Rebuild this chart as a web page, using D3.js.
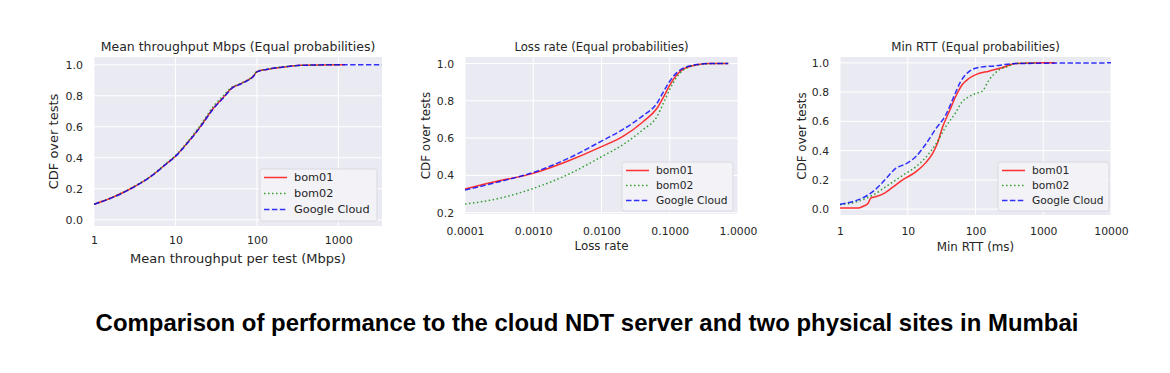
<!DOCTYPE html>
<html><head><meta charset="utf-8">
<script src="https://cdn.jsdelivr.net/npm/d3@7"></script>
<style>
body{margin:0;background:#fff;}
</style></head>
<body><svg id="c" width="1170" height="373"></svg>
<script>
// ---------- DATA ----------
const seriesNames = ["bom01", "bom02", "Google Cloud"];

// Panel 1: mean throughput (Mbps) -> CDF
const tputX_bom01 = [1, 1.73, 3.04, 4.87, 7.8, 10, 13.7, 20, 29.2, 38.7, 50, 60, 75, 90, 100, 132, 211, 338, 1000, 1200];
const tputY_bom01 = [0.10, 0.147, 0.21, 0.276, 0.363, 0.41, 0.49, 0.598, 0.72, 0.79, 0.853, 0.872, 0.897, 0.925, 0.955, 0.97, 0.985, 0.996, 1.0, 1.0];
const tputX_bom02 = [1, 1.73, 3.04, 4.87, 7.8, 10, 13.7, 20, 29.2, 38.7, 50, 60, 75, 90, 100, 132, 211, 338, 1000, 1100];
const tputY_bom02 = [0.10, 0.148, 0.212, 0.278, 0.366, 0.414, 0.495, 0.606, 0.73, 0.80, 0.857, 0.874, 0.899, 0.927, 0.956, 0.971, 0.986, 0.996, 1.0, 1.0];
const tputX_gcp = [1, 1.73, 3.04, 4.87, 7.8, 10, 13.7, 20, 29.2, 38.7, 50, 60, 75, 90, 100, 132, 211, 338, 1000, 3436];
const tputY_gcp = [0.10, 0.146, 0.209, 0.275, 0.362, 0.409, 0.488, 0.595, 0.716, 0.786, 0.851, 0.870, 0.895, 0.923, 0.954, 0.97, 0.985, 0.996, 1.0, 1.0];

// Panel 2: loss rate -> CDF
const lossX = [0.0001, 0.000316, 0.001, 0.00324, 0.01, 0.0209, 0.0407, 0.0646, 0.0813, 0.1, 0.126, 0.158, 0.251, 0.389, 0.72];
const lossY_bom01 = [0.327, 0.371, 0.411, 0.477, 0.554, 0.611, 0.688, 0.759, 0.821, 0.884, 0.938, 0.97, 0.993, 1.0, 1.0];
const lossY_bom02 = [0.246, 0.277, 0.33, 0.405, 0.50, 0.566, 0.646, 0.714, 0.790, 0.862, 0.925, 0.965, 0.992, 0.999, 1.0];
const lossY_gcp = [0.321, 0.366, 0.416, 0.491, 0.584, 0.648, 0.721, 0.786, 0.850, 0.905, 0.950, 0.975, 0.995, 1.0, 1.0];

// Panel 3: min RTT (ms) -> CDF
const rttX_bom01 = [1, 1.86, 2.2, 2.6, 2.84, 3.44, 4.55, 6.0, 8.4, 13.3, 18.5, 23.2, 27.4, 32.6, 40.8, 51, 63.5, 79.8, 105, 157, 245, 385, 1000, 1500];
const rttY_bom01 = [0.007, 0.007, 0.02, 0.04, 0.075, 0.086, 0.11, 0.15, 0.20, 0.256, 0.318, 0.38, 0.45, 0.56, 0.666, 0.77, 0.85, 0.893, 0.923, 0.943, 0.966, 0.995, 1.0, 1.0];
const rttX_bom02 = [1, 1.75, 2.45, 3.44, 4.8, 6.7, 9.4, 13.2, 18.5, 26, 36, 51, 63.5, 80, 100, 125, 157, 220, 305, 385, 800];
const rttY_bom02 = [0.03, 0.05, 0.075, 0.11, 0.155, 0.20, 0.245, 0.29, 0.355, 0.445, 0.56, 0.66, 0.734, 0.768, 0.79, 0.805, 0.88, 0.95, 0.977, 0.995, 1.0];
const rttX_gcp = [1, 1.75, 2.45, 3.44, 4.8, 6.7, 9.4, 13.2, 18.5, 26, 36, 48, 60, 80, 111, 195, 385, 10000];
const rttY_gcp = [0.034, 0.06, 0.09, 0.14, 0.21, 0.28, 0.31, 0.36, 0.445, 0.55, 0.64, 0.77, 0.87, 0.94, 0.968, 0.98, 0.995, 1.0];

// Tick labels
const tputTicks = [1, 10, 100, 1000];
const tputTickLabels = ["1", "10", "100", "1000"];
const lossTicks = [0.0001, 0.001, 0.01, 0.1, 1];
const lossTickLabels = ["0.0001", "0.0010", "0.0100", "0.1000", "1.0000"];
const rttTicks = [1, 10, 100, 1000, 10000];
const rttTickLabels = ["1", "10", "100", "1000", "10000"];
const yTicksFull = [0, 0.2, 0.4, 0.6, 0.8, 1.0];
const yTicksLoss = [0.2, 0.4, 0.6, 0.8, 1.0];

const titles = ["Mean throughput Mbps (Equal probabilities)", "Loss rate (Equal probabilities)", "Min RTT (Equal probabilities)"];
const xLabels = ["Mean throughput per test (Mbps)", "Loss rate", "Min RTT (ms)"];
const yLabel = "CDF over tests";
const caption = "Comparison of performance to the cloud NDT server and two physical sites in Mumbai";

// ---------- STYLE ----------
const styles = [
  {color: "#ff0000", dash: null, width: 1.5, op: 0.8},
  {color: "#109010", dash: "1.5,2.5", width: 1.5, op: 0.85},
  {color: "#0000ff", dash: "5.5,2.4", width: 1.5, op: 0.8}
];
const FONT = "'DejaVu Sans', sans-serif";
const TXT = "#262626";

const svg = d3.select("#c");

const panels = [
  {l: 94, r: 382, t: 57, b: 226, xd: [1, 3436], yd: [-0.04, 1.05], xt: tputTicks, xtl: tputTickLabels, yt: yTicksFull,
   series: [[tputX_bom01, tputY_bom01], [tputX_bom02, tputY_bom02], [tputX_gcp, tputY_gcp]],
   fs: 11, tfs: 12.5, lfs: 13, gfs: 11.3, xtY: 14.5, xlabY: 258, ylabX: 53, legend: {x: 260, y: 169, w: 117, h: 52}},
  {l: 465, r: 738, t: 57, b: 214, xd: [0.0001, 1], yd: [0.193, 1.035], xt: lossTicks, xtl: lossTickLabels, yt: yTicksLoss,
   series: [[lossX, lossY_bom01], [lossX, lossY_bom02], [lossX, lossY_gcp]],
   fs: 10.8, tfs: 11.7, lfs: 11.9, gfs: 10.7, xtY: 17, xlabY: 246, ylabX: 426, legend: {x: 622, y: 162, w: 111, h: 49}},
  {l: 840, r: 1111, t: 57, b: 215, xd: [1, 10000], yd: [-0.04, 1.04], xt: rttTicks, xtl: rttTickLabels, yt: yTicksFull,
   series: [[rttX_bom01, rttY_bom01], [rttX_bom02, rttY_bom02], [rttX_gcp, rttY_gcp]],
   fs: 10.8, tfs: 11.8, lfs: 11.9, gfs: 10.7, xtY: 16, xlabY: 246.5, ylabX: 802, legend: {x: 998, y: 162, w: 111, h: 49}}
];

panels.forEach((p, i) => {
  const x = d3.scaleLog().domain(p.xd).range([p.l, p.r]);
  const y = d3.scaleLinear().domain(p.yd).range([p.b, p.t]);
  const g = svg.append("g");
  const clipId = "clip" + i;
  svg.append("clipPath").attr("id", clipId).append("rect")
    .attr("x", p.l).attr("y", p.t).attr("width", p.r - p.l).attr("height", p.b - p.t);
  g.append("rect").attr("x", p.l).attr("y", p.t).attr("width", p.r - p.l).attr("height", p.b - p.t).attr("fill", "#eaeaf2");
  // grid
  g.selectAll(".vg").data(p.xt).enter().append("line")
    .attr("x1", d => x(d)).attr("x2", d => x(d)).attr("y1", p.t).attr("y2", p.b)
    .attr("stroke", "#fff").attr("stroke-width", 1);
  g.selectAll(".hg").data(p.yt).enter().append("line")
    .attr("x1", p.l).attr("x2", p.r).attr("y1", d => y(d)).attr("y2", d => y(d))
    .attr("stroke", "#fff").attr("stroke-width", 1);
  // axes via d3
  const xa = d3.axisBottom(x).tickValues(p.xt).tickFormat((d, k) => p.xtl[k]).tickSize(0).tickPadding(0);
  const xg = g.append("g").attr("transform", `translate(0,${p.b})`).call(xa);
  xg.select(".domain").remove();
  xg.selectAll("text").attr("dy", null).attr("y", p.xtY).attr("dominant-baseline", "central")
    .style("font-size", p.fs + "px").style("font-family", FONT).style("fill", TXT);
  const ya = d3.axisLeft(y).tickValues(p.yt).tickFormat(d3.format(".1f")).tickSize(0).tickPadding(0);
  const yg = g.append("g").attr("transform", `translate(${p.l - 11},0)`).call(ya);
  yg.select(".domain").remove();
  yg.selectAll("text").attr("dy", null).attr("x", 0).attr("dominant-baseline", "central")
    .style("font-size", p.fs + "px").style("font-family", FONT).style("fill", TXT);
  // title & labels
  g.append("text").attr("x", (p.l + p.r) / 2).attr("y", 46.5).attr("text-anchor", "middle")
    .attr("dominant-baseline", "central").style("font-family", FONT).style("fill", TXT)
    .style("font-size", p.tfs + "px").text(titles[i]);
  g.append("text").attr("x", (p.l + p.r) / 2).attr("y", p.xlabY).attr("text-anchor", "middle")
    .attr("dominant-baseline", "central").style("font-family", FONT).style("fill", TXT)
    .style("font-size", p.lfs + "px").text(xLabels[i]);
  g.append("text").attr("transform", `translate(${p.ylabX},${(p.t + p.b) / 2}) rotate(-90)`).attr("text-anchor", "middle")
    .attr("dominant-baseline", "central").style("font-family", FONT).style("fill", TXT)
    .style("font-size", p.lfs + "px").text(yLabel);
  // lines
  const line = d3.line().x(d => x(d[0])).y(d => y(d[1])).curve(d3.curveMonotoneX);
  const lg = g.append("g").attr("clip-path", `url(#${clipId})`);
  p.series.forEach((s, k) => {
    const pts = s[0].map((v, j) => [v, s[1][j]]);
    const st = styles[k];
    lg.append("path").attr("d", line(pts)).attr("fill", "none").attr("stroke", st.color)
      .attr("stroke-width", st.width).attr("stroke-opacity", st.op)
      .attr("stroke-dasharray", st.dash);
  });
  // legend
  const L = p.legend;
  const lgd = g.append("g");
  lgd.append("rect").attr("x", L.x).attr("y", L.y).attr("width", L.w).attr("height", L.h).attr("rx", 2.5)
    .attr("fill", "#f3f3f7").attr("fill-opacity", 0.9).attr("stroke", "#d4d4dc").attr("stroke-width", 0.8);
  const step = (L.h - 4) / 3;
  seriesNames.forEach((n, k) => {
    const cy = L.y + 8.5 + k * step;
    const st = styles[k];
    lgd.append("line").attr("x1", L.x + 4).attr("x2", L.x + 27).attr("y1", cy).attr("y2", cy)
      .attr("stroke", st.color).attr("stroke-width", st.width).attr("stroke-opacity", st.op)
      .attr("stroke-dasharray", st.dash);
    lgd.append("text").attr("x", L.x + 34).attr("y", cy).attr("dominant-baseline", "central")
      .style("font-family", FONT).style("fill", TXT)
      .style("font-size", p.gfs + "px").text(n);
  });
});

// caption
const cap = svg.append("text").attr("x", 587).attr("y", 323).attr("text-anchor", "middle")
  .attr("dominant-baseline", "central")
  .style("font-family", "'Liberation Sans', Arial, Helvetica, sans-serif").style("font-weight", "bold")
  .style("font-size", "23px").style("fill", "#000").text(caption);
const w = cap.node().getComputedTextLength();
const target = 983;
cap.attr("transform", `translate(587,323) scale(${target / w},1) translate(-587,-323)`);
</script></body></html>
